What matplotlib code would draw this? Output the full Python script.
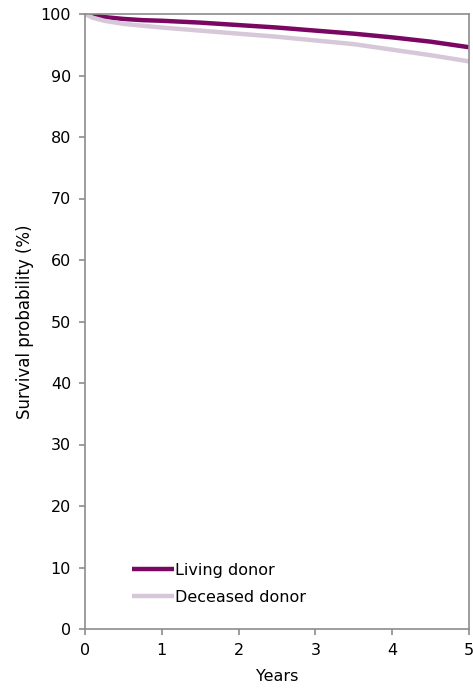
import matplotlib
matplotlib.use("Agg")
import matplotlib.pyplot as plt

years = [0, 0.1, 0.25, 0.5, 0.75, 1, 1.5, 2, 2.5, 3, 3.5, 4, 4.5, 5]
living = [100, 99.8, 99.5, 99.2, 99.0, 98.9, 98.6, 98.2, 97.8, 97.3, 96.8, 96.2, 95.5, 94.6]
deceased = [100, 99.4, 98.9, 98.4, 98.1, 97.8, 97.3, 96.8, 96.3, 95.7, 95.1, 94.2, 93.3, 92.3]
labels = ["Living donor", "Deceased donor"]
colors = ["#7A0862", "#D6C8D8"]

plt.rcParams['font.family'] = ['DejaVu Sans']
fig = plt.figure(figsize=(4.73, 6.88), dpi=100)
ax = fig.add_axes([85/473, 1 - 629/688, (469-85)/473, (629-14)/688])

ax.plot(years, living, color=colors[0], lw=3.2, label=labels[0], solid_capstyle='butt')
ax.plot(years, deceased, color=colors[1], lw=3.2, label=labels[1], solid_capstyle='butt')

ax.set_xlim(0, 5)
ax.set_ylim(0, 100)
ax.set_xticks(range(0, 6))
ax.set_yticks(range(0, 101, 10))
for s in ax.spines.values():
    s.set_color('#8C8C8C')
    s.set_linewidth(1.2)
ax.tick_params(axis='both', colors='#8C8C8C', labelcolor='black', labelsize=11.5,
               length=4, width=1.2, direction='out', pad=6)
ax.set_xlabel("Years", fontsize=11.5, labelpad=8)
ax.set_ylabel("Survival probability (%)", fontsize=12, labelpad=5)

leg = ax.legend(loc='lower left', bbox_to_anchor=(0.085, 0.016), frameon=False, fontsize=11.5,
                handlelength=2.6, handletextpad=0.1, labelspacing=0.75)

fig.savefig("out.png", dpi=100)
